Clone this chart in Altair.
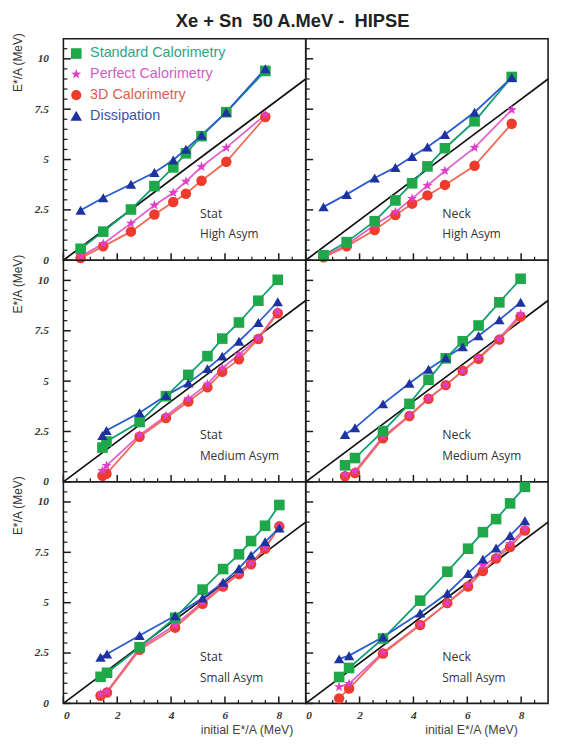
import altair as alt
import pandas as pd

SERIES = ["Standard Calorimetry", "Perfect Calorimetry", "3D Calorimetry", "Dissipation"]
MARK_COLORS = ["#1fa84a", "#e040c8", "#ee3b2b", "#1f33a0"]
LINE_COLORS = ["#12a070", "#e262cc", "#f06a55", "#2a5bd0"]
LABEL_COLORS = ["#2aa58a", "#d25cc5", "#d8604f", "#3a55a8"]
STAR = "M0,-1L0.24,-0.33L0.95,-0.31L0.38,0.12L0.59,0.81L0,0.4L-0.59,0.81L-0.38,0.12L-0.95,-0.31L-0.24,-0.33Z"
SHAPES = ["square", STAR, "circle", "triangle-up"]
SIZES = [115, 110, 105, 135]
DRAW_RANK = [3, 2, 1, 4]

# ---- data ----
TL_X = [0.64, 1.48, 2.51, 3.38, 4.08, 4.55, 5.13, 6.05, 7.50]
TL_STD = [0.57, 1.42, 2.52, 3.68, 4.61, 5.31, 6.16, 7.35, 9.40]
TL_PERF = [0.20, 0.82, 1.83, 2.73, 3.35, 3.91, 4.64, 5.59, 7.22]
TL_3D = [0.11, 0.69, 1.42, 2.27, 2.89, 3.30, 3.95, 4.89, 7.11]
TL_DISS = [2.48, 3.10, 3.77, 4.36, 4.98, 5.51, 6.21, 7.35, 9.51]

TR_X = [0.66, 1.52, 2.56, 3.33, 3.95, 4.52, 5.17, 6.27, 7.65]
TR_STD = [0.25, 0.90, 1.94, 2.97, 3.82, 4.66, 5.56, 6.90, 9.10]
TR_PERF = [0.20, 0.77, 1.75, 2.40, 3.06, 3.71, 4.44, 5.59, 7.47]
TR_3D = [0.15, 0.69, 1.50, 2.24, 2.81, 3.22, 3.74, 4.69, 6.78]
TR_DISS = [2.65, 3.27, 4.08, 4.61, 5.15, 5.62, 6.24, 7.35, 9.07]

ML_X = [1.45, 1.60, 2.83, 3.81, 4.64, 5.35, 5.90, 6.52, 7.24, 7.96]
ML_STD = [1.70, 2.00, 2.97, 4.25, 5.31, 6.24, 7.11, 7.91, 8.99, 10.03]
ML_PERF = [0.55, 0.80, 2.32, 3.27, 4.12, 4.85, 5.64, 6.32, 7.14, 8.45]
ML_3D = [0.30, 0.40, 2.24, 3.17, 3.99, 4.69, 5.46, 6.08, 7.09, 8.37]
ML_DISS = [2.30, 2.55, 3.43, 4.28, 4.90, 5.62, 6.24, 6.98, 7.91, 8.94]

MR_X = [1.46, 1.83, 2.87, 3.85, 4.56, 5.20, 5.83, 6.42, 7.19, 7.98]
MR_STD = [0.82, 1.18, 2.52, 3.87, 5.07, 6.13, 6.98, 7.76, 8.91, 10.08]
MR_PERF = [0.36, 0.52, 2.24, 3.30, 4.15, 4.80, 5.51, 6.16, 7.11, 8.33]
MR_3D = [0.28, 0.44, 2.16, 3.27, 4.12, 4.80, 5.51, 6.11, 7.06, 8.20]
MR_DISS = [2.35, 2.68, 3.87, 4.89, 5.59, 6.16, 6.70, 7.25, 8.04, 8.91]

BL_X = [1.38, 1.62, 2.83, 4.15, 5.17, 5.93, 6.52, 6.97, 7.49, 8.02]
BL_STD = [1.32, 1.52, 2.79, 4.25, 5.65, 6.67, 7.40, 8.06, 8.82, 9.85]
BL_PERF = [0.46, 0.59, 2.75, 3.89, 5.03, 5.85, 6.47, 6.96, 7.73, 8.79]
BL_3D = [0.38, 0.54, 2.66, 3.76, 4.95, 5.80, 6.42, 6.91, 7.68, 8.79]
BL_DISS = [2.29, 2.45, 3.37, 4.35, 5.23, 6.01, 6.70, 7.35, 8.02, 8.71]

BR_X = [1.24, 1.61, 2.87, 4.25, 5.26, 6.03, 6.58, 7.07, 7.59, 8.14]
BR_STD = [1.31, 1.76, 3.22, 5.10, 6.54, 7.68, 8.50, 9.15, 9.93, 10.75]
BR_PERF = [0.82, 0.98, 2.53, 3.92, 4.98, 5.88, 6.83, 7.27, 7.92, 8.69]
BR_3D = [0.25, 0.74, 2.48, 3.89, 4.98, 5.80, 6.57, 7.19, 7.76, 8.58]
BR_DISS = [2.21, 2.37, 3.30, 4.49, 5.47, 6.45, 7.16, 7.71, 8.33, 9.07]

DIAG_X = [0, 9]
DIAG_Y = [0, 9]

X_MAJOR = [0, 2, 4, 6, 8]
X_MINOR = [0.5, 1, 1.5, 2.5, 3, 3.5, 4.5, 5, 5.5, 6.5, 7, 7.5, 8.5]
Y_MAJOR = [0, 2.5, 5, 7.5, 10]
Y_MINOR = [0.5, 1, 1.5, 2, 3, 3.5, 4, 4.5, 5.5, 6, 6.5, 7, 8, 8.5, 9, 9.5, 10.5]

TITLE = "Xe + Sn\u00a0 50 A.MeV -\u00a0 HIPSE"
X_TITLE = "initial E*/A (MeV)"
Y_TITLE = "E*/A (MeV)"

W, H = 245, 224
XMAX, YMAX = 9, 11
AX_FONT = "Liberation Serif"
TXT_FONT = "Liberation Sans"
INK = "#1c1c1c"

# tick lengths in pixels, turned into data units of each axis
XT_LONG, XT_SHORT = 7 * YMAX / H, 3.5 * YMAX / H
YT_LONG, YT_SHORT = 7.5 * XMAX / W, 4 * XMAX / W


def tick_rows():
    """Short inward tick segments as two-point line groups."""
    rows = []
    for vals, length, kind, tag in [(X_MAJOR, XT_LONG, "major", "xM"),
                                    (X_MINOR, XT_SHORT, "minor", "xm")]:
        for v in vals:
            g = f"{tag}{v}"
            rows.append({"x": v, "y": 0.0, "series": g, "kind": kind})
            rows.append({"x": v, "y": length, "series": g, "kind": kind})
    for vals, length, kind, tag in [(Y_MAJOR, YT_LONG, "major", "yM"),
                                    (Y_MINOR, YT_SHORT, "minor", "ym")]:
        for v in vals:
            g = f"{tag}{v}"
            rows.append({"x": 0.0, "y": v, "series": g, "kind": kind})
            rows.append({"x": length, "y": v, "series": g, "kind": kind})
    return rows


TICK_ROWS = tick_rows()
TICK_GROUPS = list(dict.fromkeys(r["series"] for r in TICK_ROWS))


def panel(xs, ys_list, row, col, tag, asym, legend=False):
    recs = []
    for s, ys, rk in zip(SERIES, ys_list, DRAW_RANK):
        for x, y in zip(xs, ys):
            recs.append({"x": x, "y": y, "series": s, "rank": rk})
    df = pd.DataFrame(recs)
    line_df = pd.DataFrame(
        TICK_ROWS + [{"x": r["x"], "y": r["y"], "series": r["series"], "kind": "data"}
                     for r in recs]
    )
    xsc = alt.Scale(domain=[0, XMAX], nice=False, zero=False)
    ysc = alt.Scale(domain=[0, YMAX], nice=False, zero=False)
    bottom = row == 2
    left = col == 0

    bx = dict(orient="bottom", values=X_MAJOR, ticks=False, tickSize=0, domain=False,
              grid=False, labels=bottom)
    if bottom:
        bx.update(labelFont=AX_FONT, labelFontStyle="italic", labelFontWeight="bold",
                  labelFontSize=11.5, labelColor="#333", labelPadding=6,
                  title=X_TITLE, titleFont=TXT_FONT, titleFontSize=12.5,
                  titleFontWeight="normal", titleColor="#444", titleAlign="right",
                  titleBaseline="middle", titleAnchor="end",
                  titleX=232 if left else 214, titleY=26)
    else:
        bx.update(title=None)
    by = dict(orient="left", values=Y_MAJOR, ticks=False, tickSize=0, domain=False,
              grid=False, labels=left, title=None, labelExpr="'' + datum.value")
    if left:
        by.update(labelFont=AX_FONT, labelFontStyle="italic", labelFontWeight="bold",
                  labelFontSize=11.5, labelColor="#333", labelPadding=15,
                  title=Y_TITLE, titleFont=TXT_FONT, titleFontSize=12,
                  titleFontWeight="normal", titleColor="#333", titleAngle=270,
                  titleAlign="right", titleBaseline="middle", titleAnchor="end",
                  titleX=-46, titleY=-6)
    AXX = alt.Axis(**bx)
    AXY = alt.Axis(**by)

    def X(f):
        return alt.X(f, scale=xsc, axis=AXX)

    def Y(f):
        return alt.Y(f, scale=ysc, axis=AXY)

    diag = alt.Chart(pd.DataFrame({"x": DIAG_X, "y": DIAG_Y})).mark_line(
        color="#111", strokeWidth=1.7
    ).encode(x=X("x:Q"), y=Y("y:Q"))

    lines = alt.Chart(line_df).mark_line().encode(
        x=X("x:Q"), y=Y("y:Q"),
        stroke=alt.Stroke(
            "series:N",
            scale=alt.Scale(domain=TICK_GROUPS + SERIES,
                            range=[INK] * len(TICK_GROUPS) + LINE_COLORS),
            legend=None,
        ),
        strokeWidth=alt.StrokeWidth(
            "kind:N",
            scale=alt.Scale(domain=["data", "major", "minor"], range=[1.8, 1.25, 1.1]),
            legend=None,
        ),
    )

    points = alt.Chart(df).mark_point(filled=True, opacity=1, strokeWidth=0).encode(
        x=X("x:Q"), y=Y("y:Q"),
        color=alt.Color("series:N", scale=alt.Scale(domain=SERIES, range=MARK_COLORS),
                        legend=None),
        shape=alt.Shape("series:N", scale=alt.Scale(domain=SERIES, range=SHAPES),
                        legend=None),
        size=alt.Size("series:N", scale=alt.Scale(domain=SERIES, range=SIZES), legend=None),
        order=alt.Order("rank:Q"),
    )

    tx = round(W * 5.08 / XMAX)
    t1 = alt.Chart(pd.DataFrame({"t": [tag]})).mark_text(
        align="left", baseline="middle", font="Open Sans", fontSize=12.5, color="#333"
    ).encode(text="t:N", x=alt.value(tx), y=alt.value(round(H * (1 - 2.3 / YMAX))))
    t2 = alt.Chart(pd.DataFrame({"t": [asym]})).mark_text(
        align="left", baseline="middle", font="Open Sans", fontSize=12, color="#333"
    ).encode(text="t:N", x=alt.value(tx), y=alt.value(round(H * (1 - 1.28 / YMAX))))

    layers = [diag, lines, points, t1, t2]

    if legend:
        for i, s in enumerate(SERIES):
            ly = 15 + 21 * i
            sym = alt.Chart(pd.DataFrame({"series": [s]})).mark_point(
                filled=True, opacity=1, strokeWidth=0, color=MARK_COLORS[i],
                shape=SHAPES[i], size=SIZES[i]
            ).encode(x=alt.value(13), y=alt.value(ly))
            txt = alt.Chart(pd.DataFrame({"series": [s]})).mark_text(
                align="left", baseline="middle", font=TXT_FONT, fontSize=14.5,
                color=LABEL_COLORS[i]
            ).encode(text="series:N", x=alt.value(27), y=alt.value(ly))
            layers += [sym, txt]

    return alt.layer(*layers).properties(width=W, height=H)


RES = dict(color="independent", shape="independent", size="independent",
           stroke="independent", strokeWidth="independent")

tl = panel(TL_X, [TL_STD, TL_PERF, TL_3D, TL_DISS], 0, 0, "Stat", "High Asym", legend=True)
tr = panel(TR_X, [TR_STD, TR_PERF, TR_3D, TR_DISS], 0, 1, "Neck", "High Asym")
ml = panel(ML_X, [ML_STD, ML_PERF, ML_3D, ML_DISS], 1, 0, "Stat", "Medium Asym")
mr = panel(MR_X, [MR_STD, MR_PERF, MR_3D, MR_DISS], 1, 1, "Neck", "Medium Asym")
bl = panel(BL_X, [BL_STD, BL_PERF, BL_3D, BL_DISS], 2, 0, "Stat", "Small Asym")
br = panel(BR_X, [BR_STD, BR_PERF, BR_3D, BR_DISS], 2, 1, "Neck", "Small Asym")

chart = alt.concat(tl, tr, ml, mr, bl, br, columns=2, spacing=0, bounds="flush").resolve_scale(
    **RES
).properties(
    title=alt.TitleParams(TITLE, font=TXT_FONT, fontSize=18.5, fontWeight="bold",
                          color="#222", anchor="middle", dx=11, offset=1.5),
    padding={"left": 3, "top": 0, "right": 2, "bottom": 0},
    background="white",
).configure_view(stroke=INK, strokeWidth=1.6)

chart.save("out.html", embed_options={"renderer": "svg", "actions": False})
